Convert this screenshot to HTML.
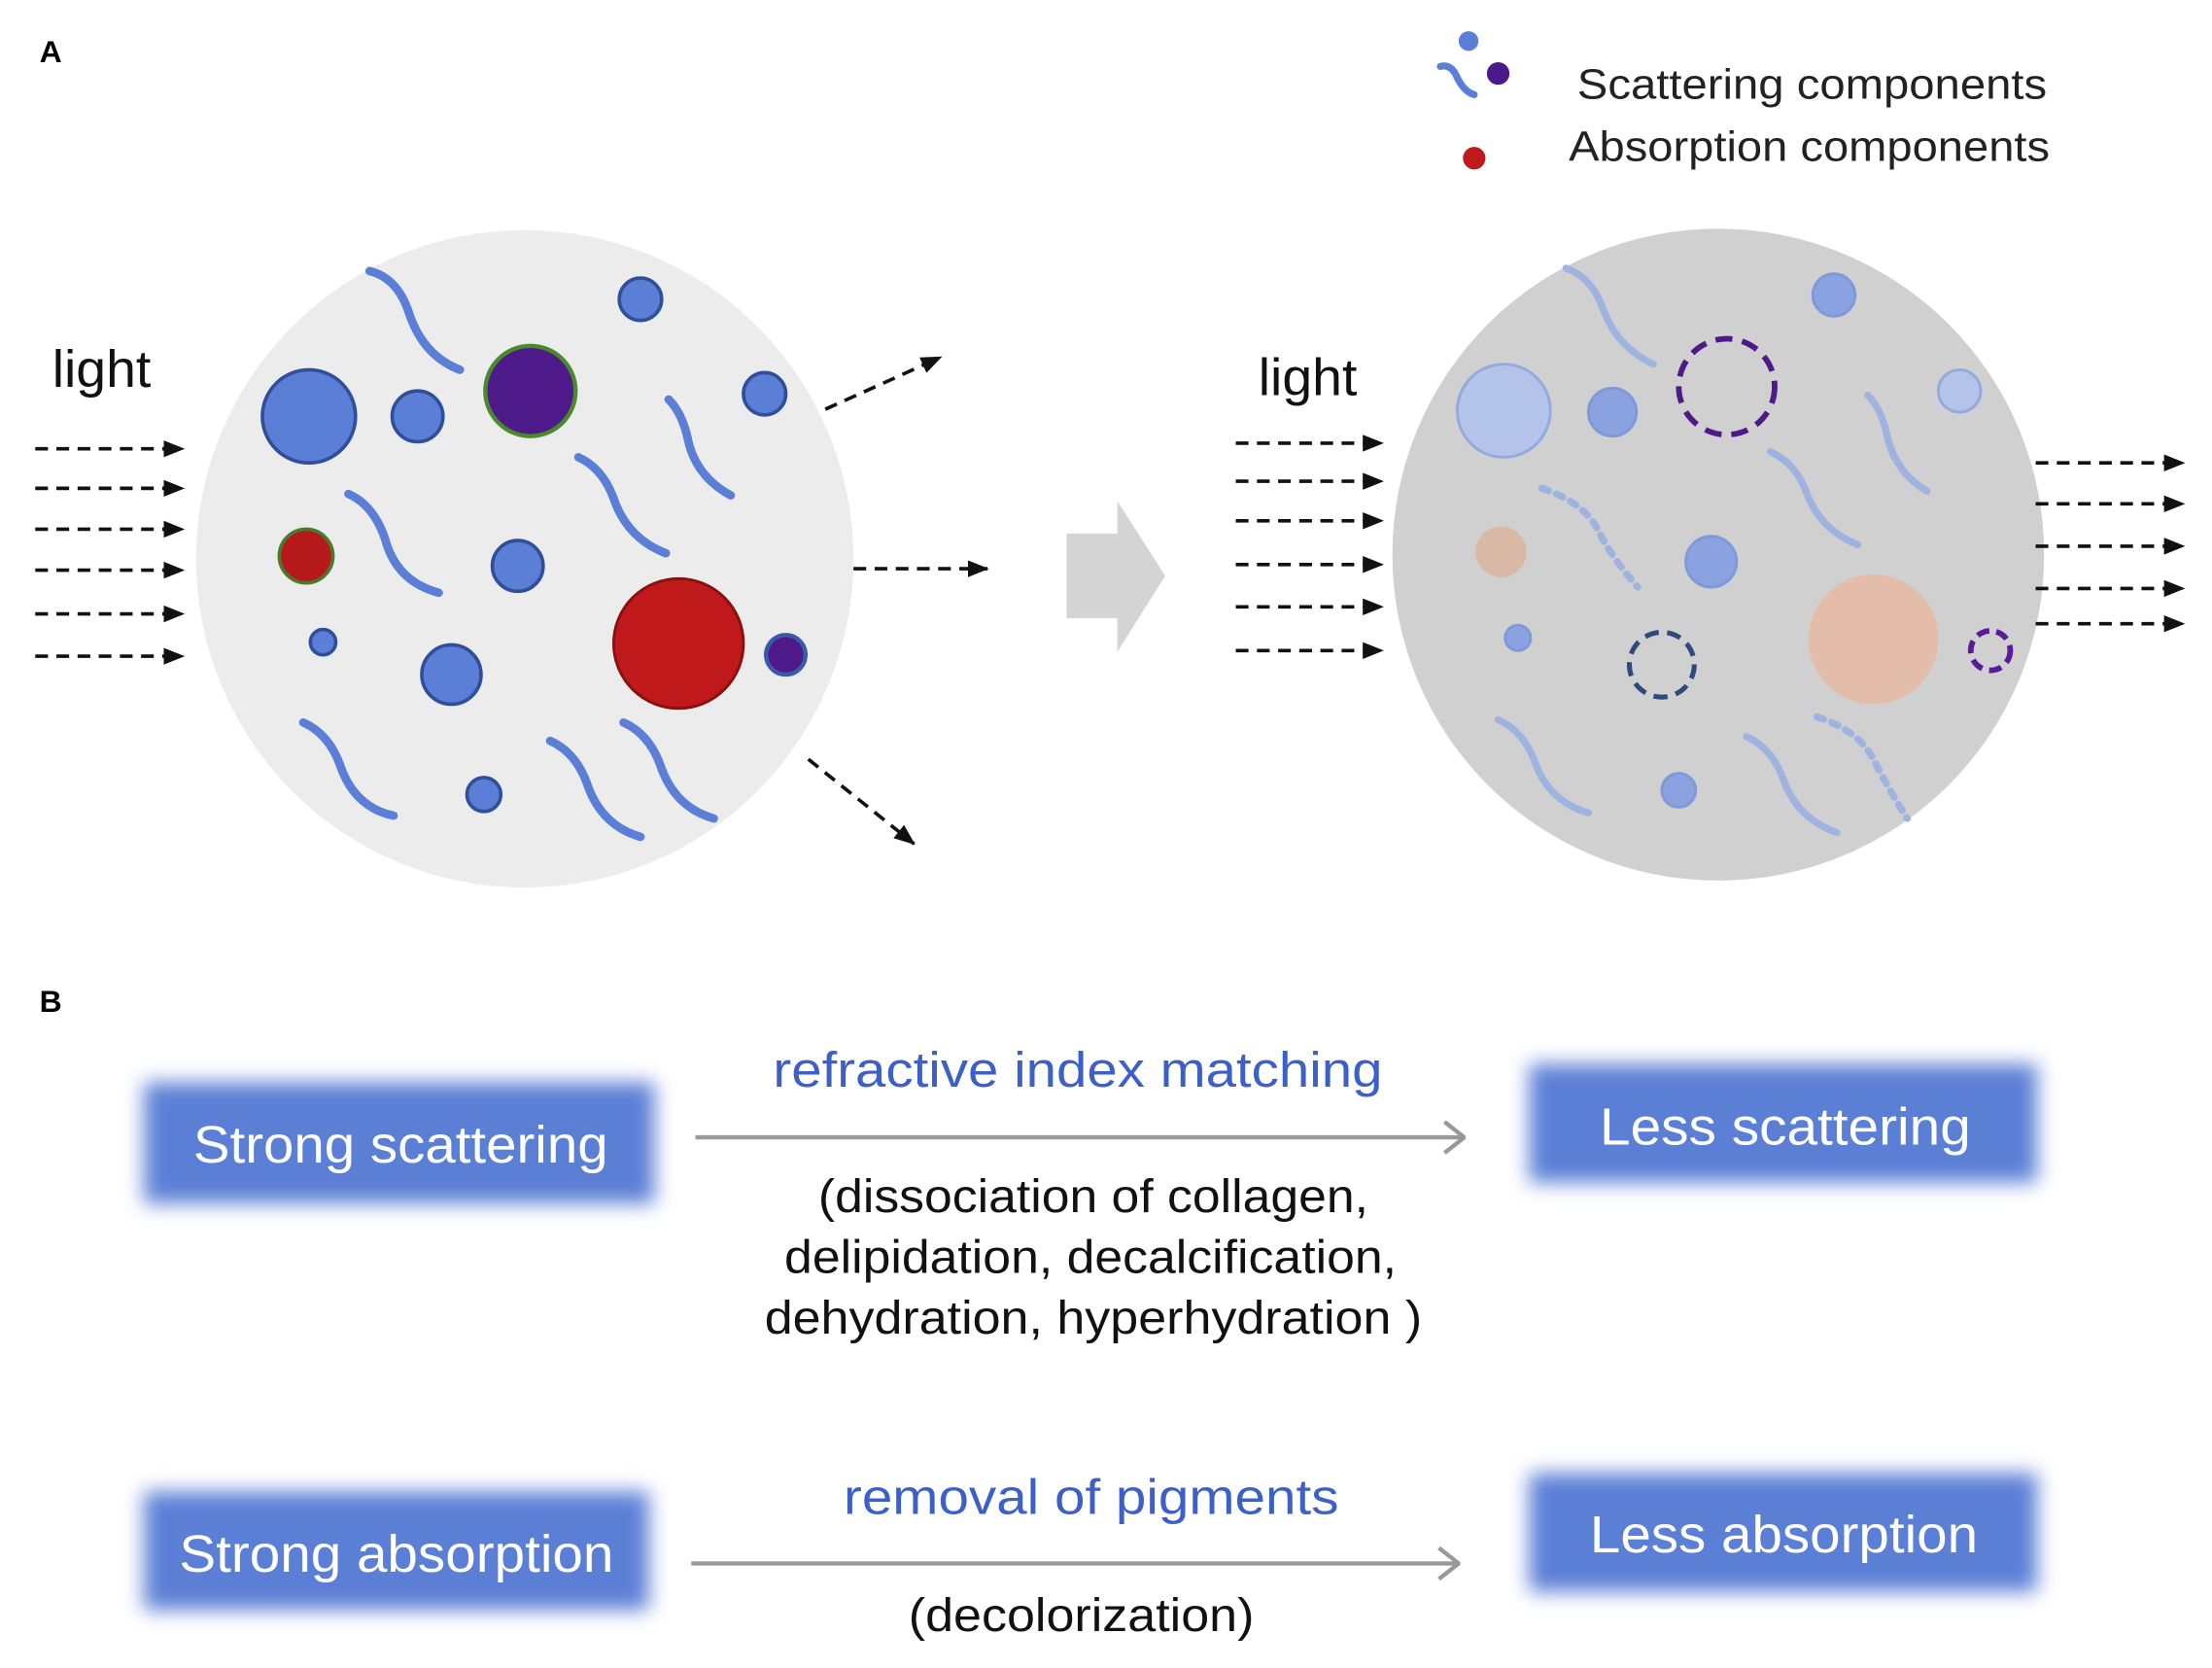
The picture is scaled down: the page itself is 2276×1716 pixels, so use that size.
<!DOCTYPE html>
<html><head><meta charset="utf-8"><style>
html,body{margin:0;padding:0;background:#fff;}
svg{display:block;}
text{font-family:"Liberation Sans",Arial,sans-serif;}
</style></head><body>
<svg width="2276" height="1716" viewBox="0 0 1568 1182" xmlns="http://www.w3.org/2000/svg">
<defs>
<marker id="ah" markerWidth="16" markerHeight="14" refX="14" refY="7" orient="auto" markerUnits="userSpaceOnUse"><path d="M0,1 L15,7 L0,13 z" fill="#111"/></marker>
<marker id="ag" markerWidth="16" markerHeight="24" refX="15" refY="12" orient="auto" markerUnits="userSpaceOnUse"><path d="M1,1 L15,12 L1,23" fill="none" stroke="#999" stroke-width="3"/></marker>
<filter id="bl" x="-20%" y="-40%" width="140%" height="180%"><feGaussianBlur stdDeviation="7"/></filter>
</defs>
<rect width="1568" height="1182" fill="#fff"/>
<text x="28" y="44" font-size="22" font-weight="bold">A</text>
<text x="28" y="717" font-size="22" font-weight="bold">B</text>

<!-- legend -->
<circle cx="1041" cy="29" r="7" fill="#5b7fd6"/>
<path d="M1021,47 q8,-2 12,8 q5,10 12,12" fill="none" stroke="#5b7fd6" stroke-width="5" stroke-linecap="round"/>
<circle cx="1062" cy="52" r="8" fill="#4a1a8a"/>
<circle cx="1045" cy="112" r="8" fill="#c0191b"/>
<text x="1118" y="70" font-size="30" fill="#222" textLength="333" lengthAdjust="spacingAndGlyphs">Scattering components</text>
<text x="1112" y="114" font-size="30" fill="#222" textLength="341" lengthAdjust="spacingAndGlyphs">Absorption components</text>

<!-- left circle -->
<circle cx="372" cy="396" r="233" fill="#ececec"/>
<g fill="none" stroke="#5b7fd6" stroke-width="6" stroke-linecap="round">
<path d="M262,192 q20,5 28,30 q10,30 36,40"/>
<path d="M474,283 q10,10 14,30 q6,25 30,38"/>
<path d="M410,324 q18,8 26,32 q10,26 36,36"/>
<path d="M247,350 q18,8 26,32 q8,30 38,38"/>
<path d="M215,512 q18,8 26,30 q10,30 38,36"/>
<path d="M390,525 q18,8 26,30 q10,30 38,38"/>
<path d="M442,512 q18,8 26,30 q10,30 38,38"/>
</g>
<g fill="#5b7fd6" stroke="#2f4f99" stroke-width="2.5">
<circle cx="219" cy="295" r="33"/><circle cx="296" cy="295" r="18"/>
<circle cx="454" cy="212" r="15"/><circle cx="542" cy="279" r="15"/>
<circle cx="367" cy="401" r="18"/><circle cx="320" cy="478" r="21"/>
<circle cx="229" cy="455" r="9"/><circle cx="343" cy="563" r="12"/>
</g>
<circle cx="376" cy="277" r="32" fill="#4e1a8a" stroke="#4a8a2a" stroke-width="3"/>
<circle cx="557" cy="464" r="14" fill="#4e1a8a" stroke="#3a5aa8" stroke-width="3"/>
<circle cx="217" cy="394" r="19" fill="#b5191b" stroke="#4a7a2a" stroke-width="2.5"/>
<circle cx="481" cy="456" r="46" fill="#c0191b" stroke="#8a1010" stroke-width="2"/>

<text x="37" y="274" font-size="37" fill="#111" textLength="70" lengthAdjust="spacingAndGlyphs">light</text>
<g stroke="#111" stroke-width="2.5" stroke-dasharray="9,6" marker-end="url(#ah)">
<line x1="25" y1="318" x2="130" y2="318"/><line x1="25" y1="346" x2="130" y2="346"/>
<line x1="25" y1="375" x2="130" y2="375"/><line x1="25" y1="404" x2="130" y2="404"/>
<line x1="25" y1="435" x2="130" y2="435"/><line x1="25" y1="465" x2="130" y2="465"/>
<line x1="585" y1="290" x2="667" y2="253"/><line x1="605" y1="403" x2="700" y2="403"/>
<line x1="573" y1="538" x2="648" y2="598"/>
</g>

<!-- big arrow -->
<polygon points="756,378 792,378 792,355 826,408 792,462 792,438 756,438" fill="#d4d4d4"/>

<!-- right circle -->
<circle cx="1218" cy="393" r="231" fill="#d0d0d0"/>
<g fill="none" stroke="#9fb3e0" stroke-width="5" stroke-linecap="round">
<path d="M1110,190 q18,6 26,28 q10,28 36,40"/>
<path d="M1324,280 q10,10 14,30 q6,25 28,38"/>
<path d="M1255,320 q18,8 26,30 q10,26 36,36"/>
<path d="M1062,510 q18,8 26,30 q10,28 38,36"/>
<path d="M1238,522 q18,8 26,30 q10,28 38,38"/>
<path d="M1093,346 q30,10 40,30 q10,20 28,40" stroke-dasharray="5,6"/>
<path d="M1288,508 q30,10 40,30 q10,20 24,42" stroke-dasharray="5,6"/>
</g>
<g fill="#b3c3ea" stroke="#94a9dc" stroke-width="2">
<circle cx="1066" cy="291" r="33"/><circle cx="1389" cy="277" r="15"/>
</g>
<g fill="#8aa2e0" stroke="#7f98d8" stroke-width="2">
<circle cx="1143" cy="292" r="17"/><circle cx="1300" cy="209" r="15"/>
<circle cx="1213" cy="398" r="18"/><circle cx="1076" cy="452" r="9"/>
<circle cx="1190" cy="560" r="12"/>
</g>
<circle cx="1064" cy="391" r="18" fill="#d9b8a6"/>
<circle cx="1328" cy="453" r="46" fill="#e3bda9"/>
<circle cx="1224" cy="274" r="34" fill="none" stroke="#4e1a8a" stroke-width="4" stroke-dasharray="12,7"/>
<circle cx="1178" cy="471" r="23" fill="none" stroke="#2f4a7a" stroke-width="3.5" stroke-dasharray="10,6"/>
<circle cx="1411" cy="461" r="14" fill="none" stroke="#5a1a9a" stroke-width="4" stroke-dasharray="9,5"/>

<text x="892" y="280" font-size="37" fill="#111" textLength="70" lengthAdjust="spacingAndGlyphs">light</text>
<g stroke="#111" stroke-width="2.5" stroke-dasharray="9,6" marker-end="url(#ah)">
<line x1="876" y1="314" x2="980" y2="314"/><line x1="876" y1="341" x2="980" y2="341"/>
<line x1="876" y1="369" x2="980" y2="369"/><line x1="876" y1="400" x2="980" y2="400"/>
<line x1="876" y1="430" x2="980" y2="430"/><line x1="876" y1="461" x2="980" y2="461"/>
<line x1="1443" y1="328" x2="1548" y2="328"/><line x1="1443" y1="357" x2="1548" y2="357"/>
<line x1="1443" y1="387" x2="1548" y2="387"/><line x1="1443" y1="417" x2="1548" y2="417"/>
<line x1="1443" y1="442" x2="1548" y2="442"/>
</g>

<!-- B -->
<g fill="#5b7fd6" filter="url(#bl)">
<rect x="102" y="767" width="362" height="86"/>
<rect x="1084" y="754" width="360" height="84"/>
<rect x="102" y="1057" width="358" height="84"/>
<rect x="1084" y="1044" width="360" height="84"/>
</g>
<g fill="#fff" font-size="37" lengthAdjust="spacingAndGlyphs">
<text x="137" y="824" textLength="294" lengthAdjust="spacingAndGlyphs">Strong scattering</text>
<text x="1134" y="811" textLength="263" lengthAdjust="spacingAndGlyphs">Less scattering</text>
<text x="127" y="1114" textLength="308" lengthAdjust="spacingAndGlyphs">Strong absorption</text>
<text x="1127" y="1100" textLength="275" lengthAdjust="spacingAndGlyphs">Less absorption</text>
</g>
<line x1="493" y1="806" x2="1038" y2="806" stroke="#999" stroke-width="3" marker-end="url(#ag)"/>
<line x1="490" y1="1108" x2="1034" y2="1108" stroke="#999" stroke-width="3" marker-end="url(#ag)"/>
<g font-size="35" fill="#3d5fc8">
<text x="548" y="770" textLength="432" lengthAdjust="spacingAndGlyphs">refractive index matching</text>
<text x="598" y="1073" textLength="351" lengthAdjust="spacingAndGlyphs">removal of pigments</text>
</g>
<g font-size="33" fill="#111">
<text x="580" y="859" textLength="390" lengthAdjust="spacingAndGlyphs">(dissociation of collagen,</text>
<text x="556" y="902" textLength="434" lengthAdjust="spacingAndGlyphs">delipidation, decalcification,</text>
<text x="542" y="945" textLength="466" lengthAdjust="spacingAndGlyphs">dehydration, hyperhydration )</text>
<text x="644" y="1156" textLength="245" lengthAdjust="spacingAndGlyphs">(decolorization)</text>
</g>
</svg>
</body></html>
